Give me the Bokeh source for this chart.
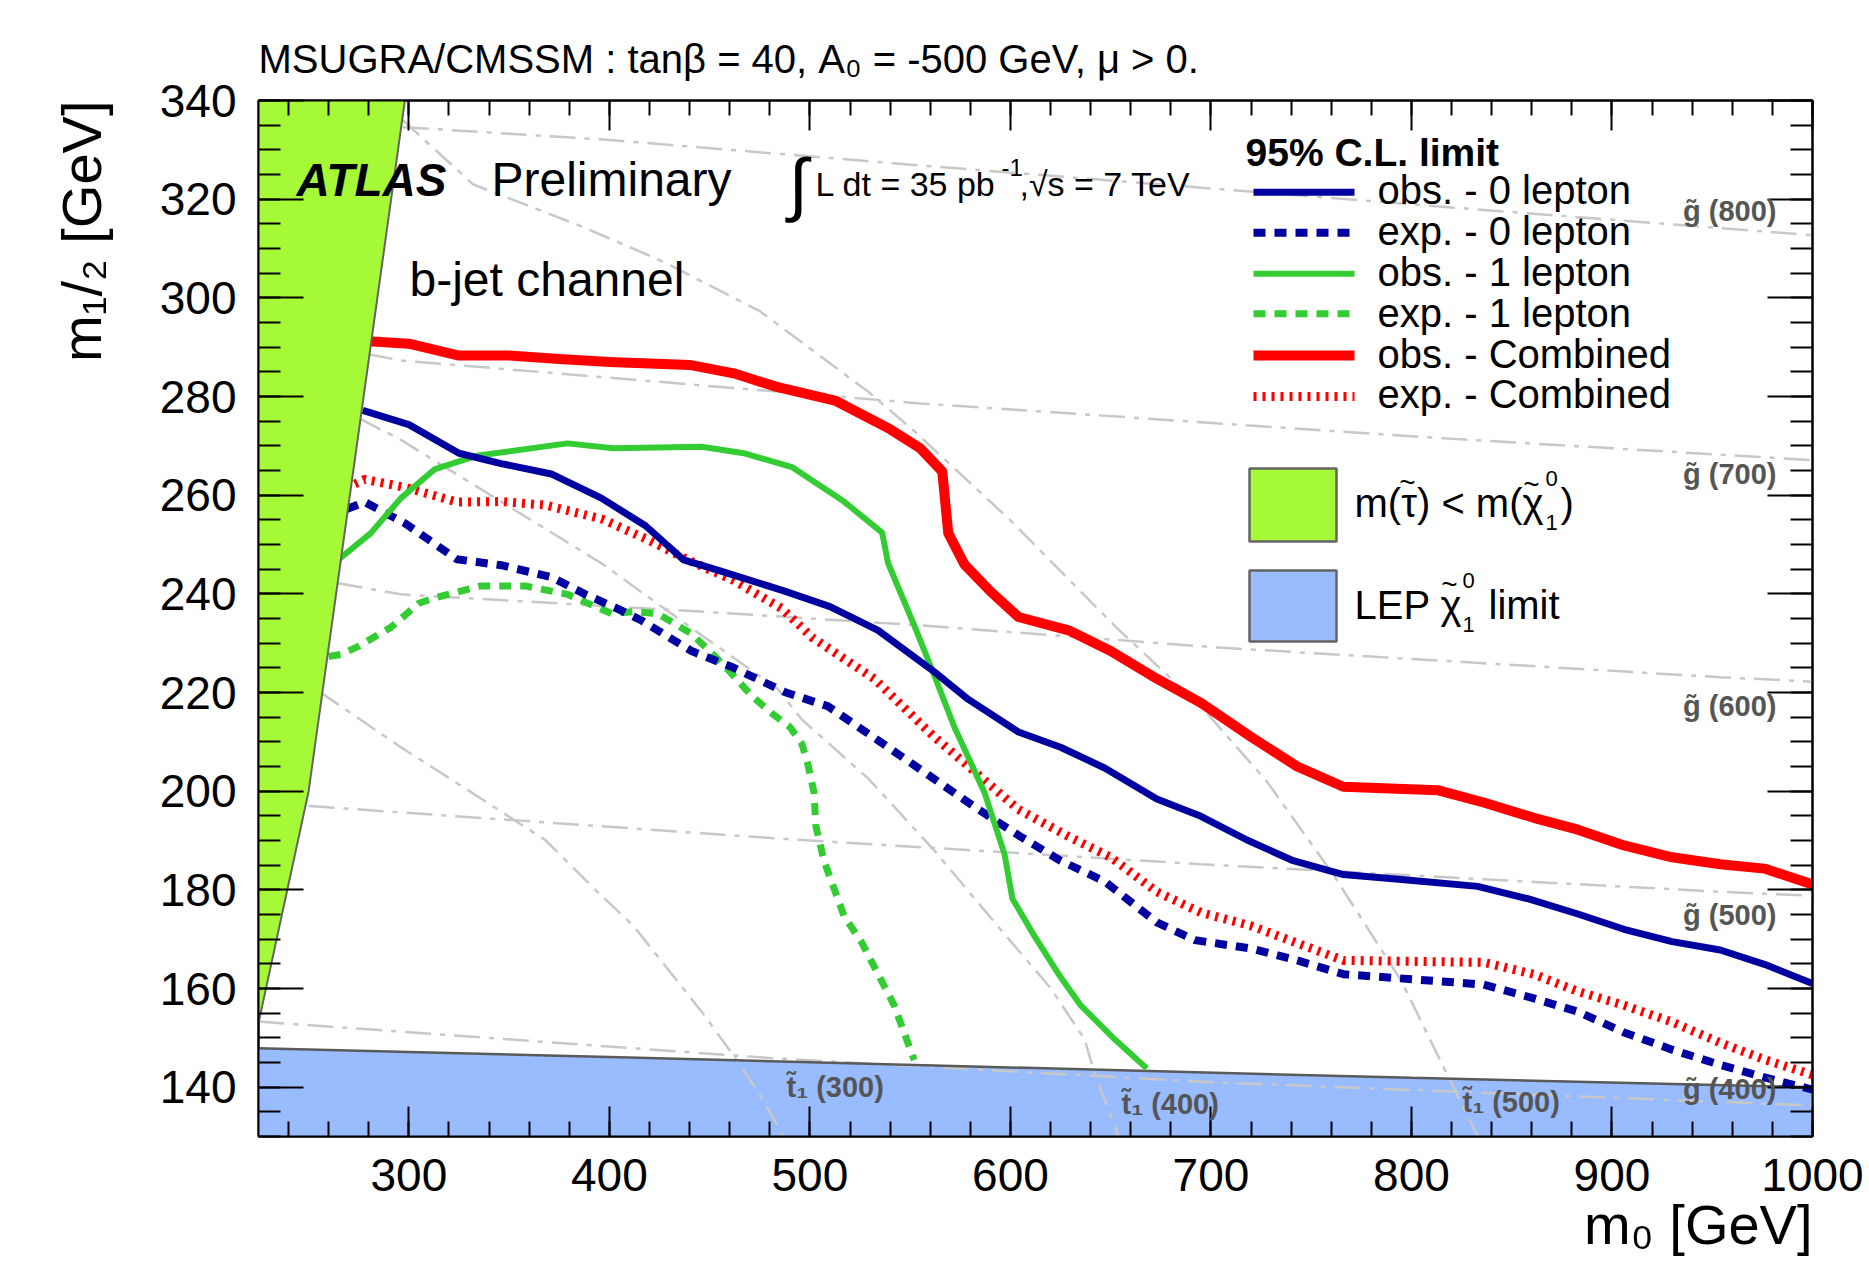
import math
from bokeh.plotting import figure
from bokeh.models import Range1d, LinearAxis, SingleIntervalTicker, Label, Title
from bokeh.embed import file_html
from bokeh.resources import INLINE

# ---------------- data (m0, m1/2 in GeV) ----------------
obs_comb_m0 = [280, 300, 325, 350, 375, 400, 440, 462, 483, 513, 539, 555, 566, 569, 577, 590,
               604, 629, 650, 673, 695, 720, 743, 766, 813, 836, 861, 883, 906, 930, 954, 976, 1000]
obs_comb_m12 = [291.2, 290.7, 288.3, 288.3, 287.6, 287.0, 286.4, 284.7, 282.0, 279.1, 273.6, 269.5,
                264.8, 252.3, 246.0, 240.5, 235.3, 232.6, 228.4, 222.8, 217.9, 211.0, 205.0, 200.9,
                200.2, 197.7, 194.6, 192.2, 189.0, 186.6, 185.2, 184.3, 181.1]

exp_comb_m0 = [269, 278, 299, 324, 346, 368, 396, 419, 439, 462, 486, 501, 532, 562, 582, 604, 629,
               650, 673, 695, 720, 743, 766, 836, 861, 883, 906, 930, 954, 976, 1000]
exp_comb_m12 = [261.5, 263.2, 261.5, 258.6, 258.7, 258.0, 255.2, 251.0, 246.9, 242.7, 237.0, 231.2,
                222.8, 211.0, 204.0, 196.3, 190.8, 186.6, 179.6, 175.4, 172.7, 169.2, 165.7, 165.3,
                162.9, 159.4, 156.6, 153.2, 149.0, 145.6, 142.5]

obs_0l_m0 = [277, 300, 325, 346, 371, 396, 418, 437, 454, 487, 510, 534, 562, 579, 604, 625, 647,
             673, 695, 718, 741, 766, 795, 833, 858, 883, 906, 930, 954, 976, 1000]
obs_0l_m12 = [277.2, 274.3, 268.5, 266.4, 264.3, 259.4, 253.8, 246.9, 244.8, 240.6, 237.4, 232.6,
              224.2, 218.6, 212.0, 208.9, 204.7, 198.4, 194.9, 190.1, 185.9, 183.1, 182.1, 180.7,
              178.2, 175.1, 172.0, 169.5, 167.8, 164.9, 161.0]

exp_0l_m0 = [269, 278, 298, 324, 346, 371, 388, 404, 416, 441, 462, 488, 509, 534, 559, 584, 605,
             625, 647, 673, 692, 720, 743, 766, 836, 861, 883, 906, 930, 954, 976, 1000]
exp_0l_m12 = [257.2, 258.6, 254.3, 247.0, 245.8, 243.4, 239.9, 237.0, 234.6, 228.4, 225.0, 220.0,
              217.2, 210.3, 203.3, 196.3, 190.8, 185.9, 181.7, 173.4, 169.8, 168.1, 165.7, 162.9,
              160.8, 158.0, 155.3, 151.1, 147.6, 144.5, 142.0, 139.5]

obs_1l_m0 = [265, 281, 296, 313, 334, 379, 402, 446, 467, 491, 517, 536, 539, 552, 562, 572, 587,
             597, 601, 612, 624, 635, 652, 668]
obs_1l_m12 = [247.0, 252.3, 259.4, 265.3, 268.0, 270.5, 269.5, 269.8, 268.5, 265.7, 258.7, 252.4,
              246.2, 233.6, 223.5, 213.0, 199.8, 187.3, 178.2, 170.6, 162.9, 156.6, 149.7, 143.8]

exp_1l_m0 = [260, 266, 275, 291, 305, 313, 336, 358, 379, 401, 412, 424, 441, 457, 471, 481, 490,
             496, 499, 502, 503, 507, 512, 517, 526, 534, 542, 552]
exp_1l_m12 = [227.3, 227.7, 229.4, 233.2, 238.1, 239.2, 241.6, 241.6, 239.9, 236.0, 236.4, 236.0,
              231.9, 225.6, 219.3, 215.8, 213.0, 209.6, 205.4, 199.8, 192.9, 185.9, 180.3, 174.7,
              169.2, 162.9, 156.6, 145.5]

# excluded regions
stau_m0 = [225, 298, 250, 225]
stau_m12 = [340, 340, 200, 153]
lep_m0 = [225, 400, 600, 800, 1000]
lep_m12 = [147.9, 146.1, 144.0, 141.9, 140.0]

# gluino iso-mass contours
gluino_masses = ["800", "700", "600", "500", "400"]
gl_m0 = [
    [297, 400, 550, 805, 1000],
    [279, 296, 555, 805, 1000],
    [264, 296, 446, 555, 704, 954, 1000],
    [250, 484, 695, 954, 1000],
    [225, 484, 700, 1000],
]
gl_m12 = [
    [334.6, 332.0, 327.0, 318.8, 312.7],
    [288.6, 287.3, 278.6, 271.8, 267.1],
    [242.2, 239.9, 236.4, 233.6, 229.1, 223.1, 222.2],
    [197.0, 190.4, 185.2, 179.6, 178.8],
    [153.3, 145.8, 141.0, 136.3],
]
# stop iso-mass contours
stop_masses = ["300", "400", "500"]
st_m0 = [
    [256, 296, 331, 368, 394, 412, 427, 446, 461, 474, 487],
    [276, 296, 346, 396, 437, 484, 496, 529, 562, 595, 620, 637, 642, 654],
    [297, 332, 386, 427, 475, 529, 552, 600, 652, 695, 728, 761, 795, 833],
]
st_m12 = [
    [220.0, 208.9, 199.8, 190.1, 179.6, 172.7, 165.0, 155.3, 146.9, 139.2, 130.0],
    [275.4, 271.2, 258.7, 246.2, 234.2, 220.7, 214.5, 202.6, 188.0, 172.0, 160.1, 149.7, 142.7, 130.0],
    [336.0, 323.0, 314.5, 307.3, 297.3, 281.0, 273.0, 254.9, 233.5, 217.2, 201.9, 183.1, 161.5, 130.0],
]

# ---------------- figure ----------------
W, H = 1869, 1261
BL, BR, BT, BB = 258, 57, 100, 125
X0, Y0 = BL, H - BB                  # canvas coords of frame bottom-left
FW, FH = W - BL - BR, H - BT - BB
XMIN, XMAX, YMIN, YMAX = 225, 1000, 130, 340
FONT = "Liberation Sans"

def dx(X):
    return XMIN + (X - X0) * (XMAX - XMIN) / FW

def dy(Y):
    return YMIN + (Y0 - Y) * (YMAX - YMIN) / FH

p = figure(width=W, height=H, output_backend="svg", toolbar_location=None,
           x_range=Range1d(XMIN, XMAX), y_range=Range1d(YMIN, YMAX),
           x_axis_type=None, y_axis_type=None,
           title="MSUGRA/CMSSM : tanβ = 40, A₀ = -500 GeV, μ > 0.",
           min_border_left=BL, min_border_right=BR, min_border_top=BT, min_border_bottom=BB)
p.grid.visible = False
p.background_fill_color = "white"
p.border_fill_color = "white"
p.outline_line_color = "black"
p.outline_line_width = 2
p.title.align = "left"
p.title.text_font = FONT
p.title.text_font_size = "40px"
p.title.text_font_style = "normal"
p.title.text_color = "black"
p.title.standoff = 40

def make_axis(interval, minor, labels, tin, tmin):
    ax = LinearAxis(ticker=SingleIntervalTicker(interval=interval, num_minor_ticks=minor))
    ax.axis_line_color = "black"
    ax.axis_line_width = 2
    ax.major_tick_in = tin
    ax.major_tick_out = 0
    ax.minor_tick_in = tmin
    ax.minor_tick_out = 0
    ax.major_tick_line_width = 2
    ax.minor_tick_line_width = 2
    ax.major_tick_line_color = "black"
    ax.minor_tick_line_color = "black"
    if labels:
        ax.major_label_text_font = FONT
        ax.major_label_text_font_size = "46px"
        ax.major_label_text_color = "black"
        ax.major_label_standoff = 22
    else:
        ax.major_label_text_color = None
        ax.major_label_text_font_size = "1px"
        ax.major_label_standoff = 0
    return ax

p.add_layout(make_axis(100, 5, True, 30, 15), "below")
p.add_layout(make_axis(100, 5, False, 30, 15), "above")
p.add_layout(make_axis(20, 4, True, 45, 22), "left")
p.add_layout(make_axis(20, 4, False, 45, 22), "right")

# axis titles
p.add_layout(Title(text="m₀ [GeV]", align="right", text_font=FONT, text_font_size="56px",
                   text_font_style="normal", text_color="black", standoff=-6), "below")
p.add_layout(Title(text="m₁/₂ [GeV]", align="right", text_font=FONT, text_font_size="56px",
                   text_font_style="normal", text_color="black", standoff=88), "left")

# LEP region
p.varea(x=lep_m0, y1=[YMIN] * len(lep_m0), y2=lep_m12, fill_color="#99bbff")

# iso-mass contours
for xs, ys in zip(gl_m0, gl_m12):
    p.line(xs, ys, line_color="#c8c8c8", line_width=2.5, line_dash="26 9 5 9")
for xs, ys in zip(st_m0, st_m12):
    p.line(xs, ys, line_color="#c8c8c8", line_width=2.5, line_dash="22 8 6 8")

p.line(lep_m0, lep_m12, line_color="#5a5a5a", line_width=2.5)

# limit curves
BLUE, GREEN, RED = "#0000a0", "#33cc33", "#ff0000"
styles = [
    (obs_0l_m0, obs_0l_m12, BLUE, 7, "solid", "obs. - 0 lepton"),
    (exp_0l_m0, exp_0l_m12, BLUE, 8, "12 9", "exp. - 0 lepton"),
    (obs_1l_m0, obs_1l_m12, GREEN, 6, "solid", "obs. - 1 lepton"),
    (exp_1l_m0, exp_1l_m12, GREEN, 7, "12 9", "exp. - 1 lepton"),
    (obs_comb_m0, obs_comb_m12, RED, 10, "solid", "obs. - Combined"),
    (exp_comb_m0, exp_comb_m12, RED, 9, "3 6", "exp. - Combined"),
]
for xs, ys, c, w, d, _ in [styles[3], styles[1], styles[5], styles[2], styles[0], styles[4]]:
    p.line(xs, ys, line_color=c, line_width=w, line_dash=d, line_join="round")

# stau LSP region
p.patch(stau_m0, stau_m12, fill_color="#a6f936", line_color=None)
p.line(stau_m0[1:], stau_m12[1:], line_color="#646464", line_width=2)

# ---------------- texts inside the frame ----------------
def lab(text, X, Y, size, style="normal", color="black", align="left", baseline="alphabetic"):
    p.add_layout(Label(x=X - X0, y=Y0 - Y, x_units="screen", y_units="screen", text=text,
                       text_font=FONT, text_font_size=f"{size}px", text_font_style=style,
                       text_color=color, text_align=align, text_baseline=baseline))

lab("ATLAS", 296, 179, 46, style="bold italic")
lab("Preliminary", 491, 179, 48)
lab("b-jet channel", 409, 279, 48)
lab("∫", 788, 183, 70)
lab("L dt = 35 pb", 815, 183, 34)
lab("-1", 1001, 167, 24)
lab(",√s = 7 TeV", 1019, 183, 34)

# iso-mass labels
GREY = "#555555"
for m, Y in zip(gluino_masses, [210, 473, 705, 914, 1088]):
    lab(f"g̃ ({m})", 1776, Y, 29, style="bold", color=GREY, align="right")
for m, X, Y in zip(stop_masses, [786, 1121, 1462], [1086, 1103, 1101]):
    lab(f"t̃₁ ({m})", X, Y, 29, style="bold", color=GREY)

# legend
lab("95% C.L. limit", 1245, 152, 39, style="bold")
line_Y = [191.7, 232.3, 273.3, 313.3, 355.0, 396.0]
text_Y = [189, 230, 271, 312, 353, 393]
for (xs, ys, c, w, d, name), ly, ty in zip(styles, line_Y, text_Y):
    p.line([dx(1253), dx(1354)], [dy(ly), dy(ly)], line_color=c, line_width=w, line_dash=d)
    lab(name, 1377, ty, 40)

p.quad(left=dx(1249), right=dx(1336), top=dy(468), bottom=dy(541),
       fill_color="#a6f936", line_color="#646464", line_width=2.5)
lab("m(τ) < m(χ", 1354, 502, 40)
lab("~", 1407, 482, 28, align="center")
lab("~", 1531, 484, 28, align="center")
lab("0", 1545, 478, 22)
lab("1", 1545, 522, 22)
lab(")", 1560, 502, 40)

p.quad(left=dx(1249), right=dx(1336), top=dy(570), bottom=dy(641),
       fill_color="#99bbff", line_color="#646464", line_width=2.5)
lab("LEP χ", 1354, 604, 40)
lab("~", 1449, 584, 28, align="center")
lab("0", 1462, 580, 22)
lab("1", 1462, 624, 22)
lab("limit", 1488, 604, 40)

open("out.html", "w").write(file_html(p, INLINE))
